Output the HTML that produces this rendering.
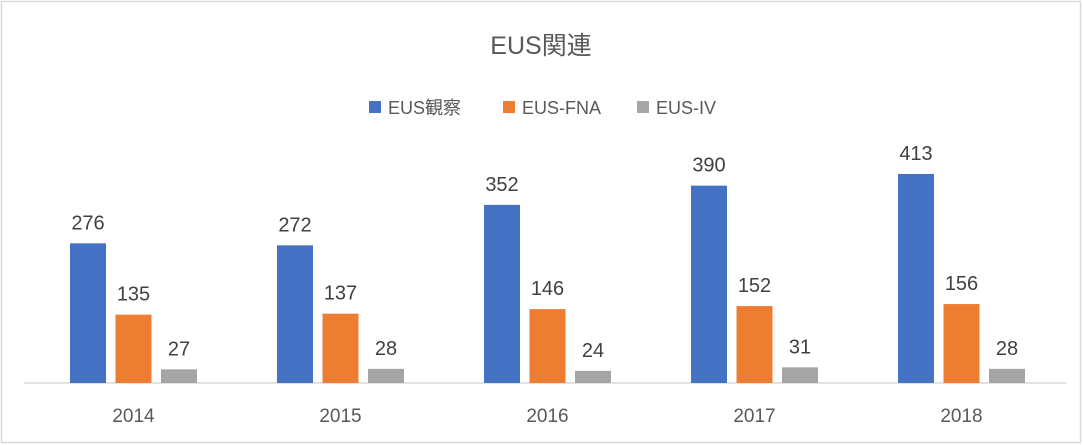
<!DOCTYPE html>
<html><head><meta charset="utf-8"><style>
body{margin:0;background:#fff;}
svg{display:block;font-family:"Liberation Sans","Noto Sans CJK JP",sans-serif;}
</style></head><body>
<svg id="chart" width="1083" height="445">
<rect x="1.5" y="1.5" width="1079" height="441" fill="#fff" stroke="#d9d9d9" stroke-width="1.5"/>
<text x="541" y="54" text-anchor="middle" font-size="25" fill="#595959">EUS関連</text>
<g>
<g><rect x="369" y="101" width="12" height="12" fill="#4472c4"/><text x="388" y="114" font-size="18" fill="#595959">EUS観察</text></g>
<g><rect x="503" y="101" width="12" height="12" fill="#ed7d31"/><text x="522" y="114" font-size="18" fill="#595959">EUS-FNA</text></g>
<g><rect x="637" y="101" width="12" height="12" fill="#a5a5a5"/><text x="656" y="114" font-size="18" fill="#595959">EUS-IV</text></g>
</g>
<line x1="24" y1="383" x2="1066" y2="383" stroke="#d9d9d9" stroke-width="1.5"/>
<g id="bars"></g>
</svg>
<script>
const categories=["2014","2015","2016","2017","2018"];
const obsValues=[276,272,352,390,413];
const fnaValues=[135,137,146,152,156];
const ivValues=[27,28,24,31,28];
const series=[{name:"observation",vals:obsValues,color:"#4472c4"},{name:"fna",vals:fnaValues,color:"#ed7d31"},{name:"iv",vals:ivValues,color:"#a5a5a5"}];
const base=383, scale=209/413, x0=30, groupW=207, barW=36, step=45.5;
function xCenter(i){return x0+groupW*(i+0.5);}
function yVal(v){return base-v*scale;}
const g=document.getElementById('bars');
const NS="http://www.w3.org/2000/svg";
categories.forEach((c,i)=>{
  const cx=xCenter(i);
  series.forEach((s,j)=>{
    const bx=cx-step+(j*step)-barW/2;
    const r=document.createElementNS(NS,'rect');
    r.setAttribute('x',bx);r.setAttribute('y',yVal(s.vals[i]));
    r.setAttribute('width',barW);r.setAttribute('height',base-yVal(s.vals[i]));
    r.setAttribute('fill',s.color);
    
    
    g.appendChild(r);
    const t=document.createElementNS(NS,'text');
    t.setAttribute('x',bx+barW/2);t.setAttribute('y',yVal(s.vals[i])-14);
    t.setAttribute('text-anchor','middle');t.setAttribute('font-size','20');t.setAttribute('fill','#404040');
    t.textContent=s.vals[i];
    
    
    g.appendChild(t);
  });
  const l=document.createElementNS(NS,'text');
  l.setAttribute('x',cx);l.setAttribute('y',422);l.setAttribute('text-anchor','middle');
  l.setAttribute('font-size','19');l.setAttribute('fill','#595959');
  l.textContent=c;
  
  
  g.appendChild(l);
});
</script>
</body></html>
